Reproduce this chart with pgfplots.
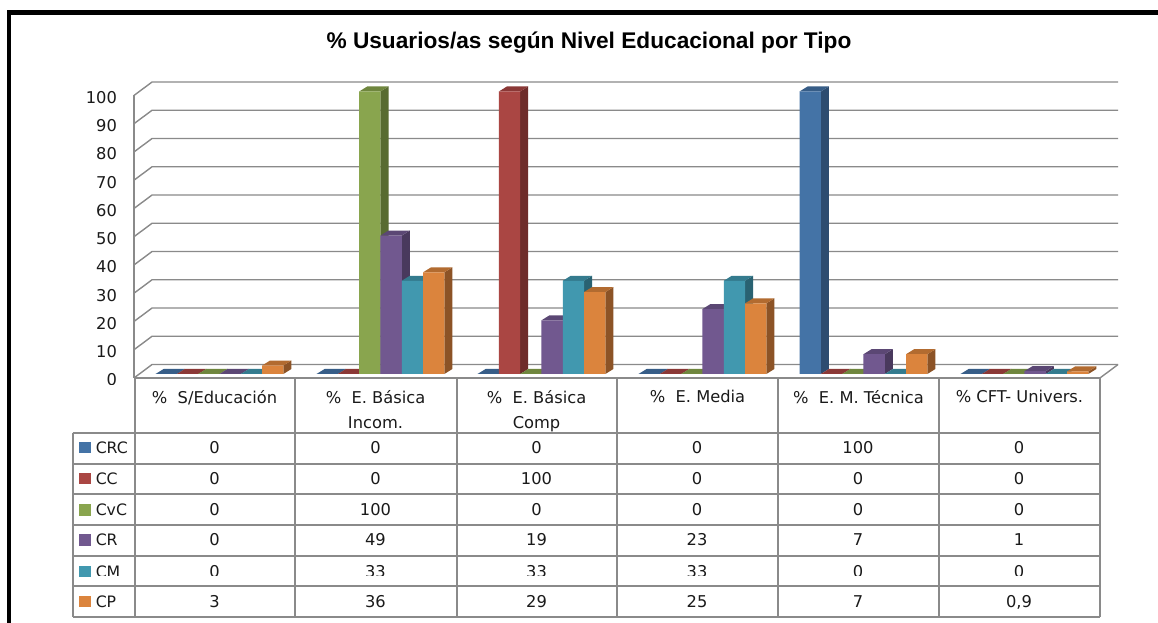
\documentclass[border=0pt]{standalone}
\usepackage{pgfplots}
\pgfplotsset{compat=1.18}
\usepackage{fontspec}
\setmainfont{DejaVu Sans}
\newfontfamily\titlefont{Liberation Sans}
\definecolor{cA}{HTML}{4473A6}\definecolor{sA}{HTML}{2D4C70}\definecolor{tA}{HTML}{375D87}
\definecolor{cB}{HTML}{AA4643}\definecolor{sB}{HTML}{6E2C2A}\definecolor{tB}{HTML}{8A3836}
\definecolor{cC}{HTML}{89A54E}\definecolor{sC}{HTML}{586B31}\definecolor{tC}{HTML}{6F863E}
\definecolor{cD}{HTML}{71588F}\definecolor{sD}{HTML}{49395D}\definecolor{tD}{HTML}{5B4774}
\definecolor{cE}{HTML}{4198AF}\definecolor{sE}{HTML}{296272}\definecolor{tE}{HTML}{347B8E}
\definecolor{cF}{HTML}{DB843D}\definecolor{sF}{HTML}{8C5326}\definecolor{tF}{HTML}{B26B30}
\definecolor{gridc}{HTML}{8A8A8A}
\definecolor{txt}{HTML}{1A1A1A}
\newcommand\tf{\fontsize{12.2pt}{19pt}\selectfont}
\newcommand\nf{\fontsize{11.8pt}{19pt}\selectfont}
\newcommand\px[2]{({(#1)*0.75pt},{(623-(#2))*0.75pt})}
% one bar: side and top faces, in axis coordinates
% #1 series index, #2 category index, #3 value, #4 letter of colour
\newcommand\faces[4]{%
 \pgfmathsetmacro\xl{#2+(#1-2.5)*0.13232+0.031-0.0662}%
 \pgfmathsetmacro\xr{\xl+0.1324}%
 \pgfmathsetmacro\xL{\xl+0.0497}%
 \pgfmathsetmacro\xR{\xr+0.0497}%
 \pgfmathsetmacro\yT{#3+1.77}%
 \pgfmathsetmacro\yB{1.77}%
 \edef\tmp{\noexpand\addplot[fill=s#4,draw=none,forget plot] coordinates {(\xr,0)(\xR,\yB)(\xR,\yT)(\xr,#3)} --cycle;
 \noexpand\addplot[fill=t#4,draw=none,forget plot] coordinates {(\xl,#3)(\xr,#3)(\xR,\yT)(\xL,\yT)} --cycle;}%
 \tmp}
% one series, bar by bar
\newcommand\series[8]{%
 \faces{#1}{0}{#2}{#8}\faces{#1}{1}{#3}{#8}\faces{#1}{2}{#4}{#8}%
 \faces{#1}{3}{#5}{#8}\faces{#1}{4}{#6}{#8}\faces{#1}{5}{#7}{#8}%
 \pgfmathsetmacro\sh{(#1-2.5)*15.975+3.75}%
 \edef\tmp{\noexpand\addplot[ybar,bar width=15.975pt,bar shift=\sh pt,fill=c#8,draw=none]
 coordinates {(0,#2)(1,#3)(2,#4)(3,#5)(4,#6)(5,#7)};}%
 \tmp}
\newcommand\gl[1]{\addplot[gridc,line width=1.05pt,forget plot] coordinates {(-0.5,#1-1.416)(-0.388,#1+3.36)(5.612,#1+3.36)};}
% table row: y of centre, name, colour letter, then six cells
\newcommand\rowt[9]{%
 \fill[c#3] \px{79.3}{#1-5.7} rectangle \px{90.7}{#1+5.7};
 \node[anchor=base west,font=\nf,text=txt,inner sep=0] at \px{95.5}{#1+6} {#2};
 \node[anchor=base,font=\tf,text=txt,inner sep=0] at \px{214.5}{#1+6} {#4};
 \node[anchor=base,font=\tf,text=txt,inner sep=0] at \px{375.5}{#1+6} {#5};
 \node[anchor=base,font=\tf,text=txt,inner sep=0] at \px{536.5}{#1+6} {#6};
 \node[anchor=base,font=\tf,text=txt,inner sep=0] at \px{697}{#1+6} {#7};
 \node[anchor=base,font=\tf,text=txt,inner sep=0] at \px{858}{#1+6} {#8};
 \node[anchor=base,font=\tf,text=txt,inner sep=0] at \px{1019}{#1+6} {#9};
}
\begin{document}
\begin{tikzpicture}[x=1pt,y=1pt]
\path[use as bounding box,fill=white] (0,0) rectangle (868.5pt,467.25pt);
\begin{axis}[
 at={(100.5pt,183.75pt)},anchor=south west,
 scale only axis,width=724.5pt,height=222pt,
 xmin=-0.5,xmax=5.5,ymin=-1.416,ymax=103.36,
 axis lines=left,axis line style={draw=none},tick style={draw=none},
 clip=false,
 xtick={0,1,2,3,4,5},
 xticklabels={{\%\ \ S/Educación},{\%\ \ E. Básica\\Incom.},{\%\ \ E. Básica\\Comp},{\%\ \ E. Media},{\%\ \ E. M. Técnica},{\%\ CFT- Univers.}},
 xticklabel style={align=center,anchor=north,font=\tf,text=txt,inner sep=0,yshift=-7pt},
 ytick={-1.416,8.584,18.584,28.584,38.584,48.584,58.584,68.584,78.584,88.584,98.584},
 yticklabels={0,10,20,30,40,50,60,70,80,90,100},
 yticklabel style={anchor=east,font=\tf,text=txt,inner sep=0,xshift=-10.5pt,yshift=-1.5pt},
 /pgf/number format/assume math mode=true,
]
\pgfplotsinvokeforeach{0,10,...,100}{\gl{#1}}
\addplot[gridc,line width=1.05pt,forget plot] coordinates {(-0.5,-1.416)(-0.5,98.584)};
\addplot[gridc,line width=1.05pt,forget plot] coordinates {(5.5,-1.416)(5.612,3.36)};
\series{0}{0}{0}{0}{0}{100}{0}{A}
\series{1}{0}{0}{100}{0}{0}{0}{B}
\series{2}{0}{100}{0}{0}{0}{0}{C}
\series{3}{0}{49}{19}{23}{7}{1}{D}
\series{4}{0}{33}{33}{33}{0}{0}{E}
\series{5}{3}{36}{29}{25}{7}{0.9}{F}
\end{axis}
% frame
\fill[black] \px{7}{10} rectangle \px{1158}{15};
\fill[black] \px{7}{10} rectangle \px{10.7}{623};
% title
\node[font=\titlefont\bfseries\fontsize{17pt}{20pt}\selectfont,inner sep=0] at \px{589}{43} {\%\ Usuarios/as según Nivel Educacional por Tipo};
% table cells
\rowt{447.5}{CRC}{A}{0}{0}{0}{0}{100}{0}
\rowt{478.5}{CC}{B}{0}{0}{100}{0}{0}{0}
\rowt{510}{CvC}{C}{0}{100}{0}{0}{0}{0}
\rowt{540}{CR}{D}{0}{49}{19}{23}{7}{1}
\rowt{571.5}{CM}{E}{0}{33}{33}{33}{0}{0}
\rowt{601.5}{CP}{F}{3}{36}{29}{25}{7}{0,9}
% the reference cuts the bottom of these labels
\fill[white] \px{93}{576.5} rectangle \px{1098}{585};
\fill[white] \px{95}{385} rectangle \px{130}{392};
% table lines
\begin{scope}[gridc,line width=1.5pt]
\draw \px{134.5}{378} -- \px{1100}{378};
\draw \px{72.5}{433.5} -- \px{1100}{433.5};
\draw \px{72.5}{464} -- \px{1100}{464};
\draw \px{72.5}{494.5} -- \px{1100}{494.5};
\draw \px{72.5}{525} -- \px{1100}{525};
\draw \px{72.5}{556} -- \px{1100}{556};
\draw \px{72.5}{586.5} -- \px{1100}{586.5};
\draw \px{72.5}{617.5} -- \px{1100}{617.5};
\draw \px{72.5}{433.5} -- \px{72.5}{617.5};
\draw \px{134.5}{378} -- \px{134.5}{617.5};
\draw \px{295}{378} -- \px{295}{617.5};
\draw \px{456.5}{378} -- \px{456.5}{617.5};
\draw \px{617}{378} -- \px{617}{617.5};
\draw \px{778}{378} -- \px{778}{617.5};
\draw \px{938.7}{378} -- \px{938.7}{617.5};
\draw \px{1100}{378} -- \px{1100}{617.5};
\end{scope}
\end{tikzpicture}
\end{document}
